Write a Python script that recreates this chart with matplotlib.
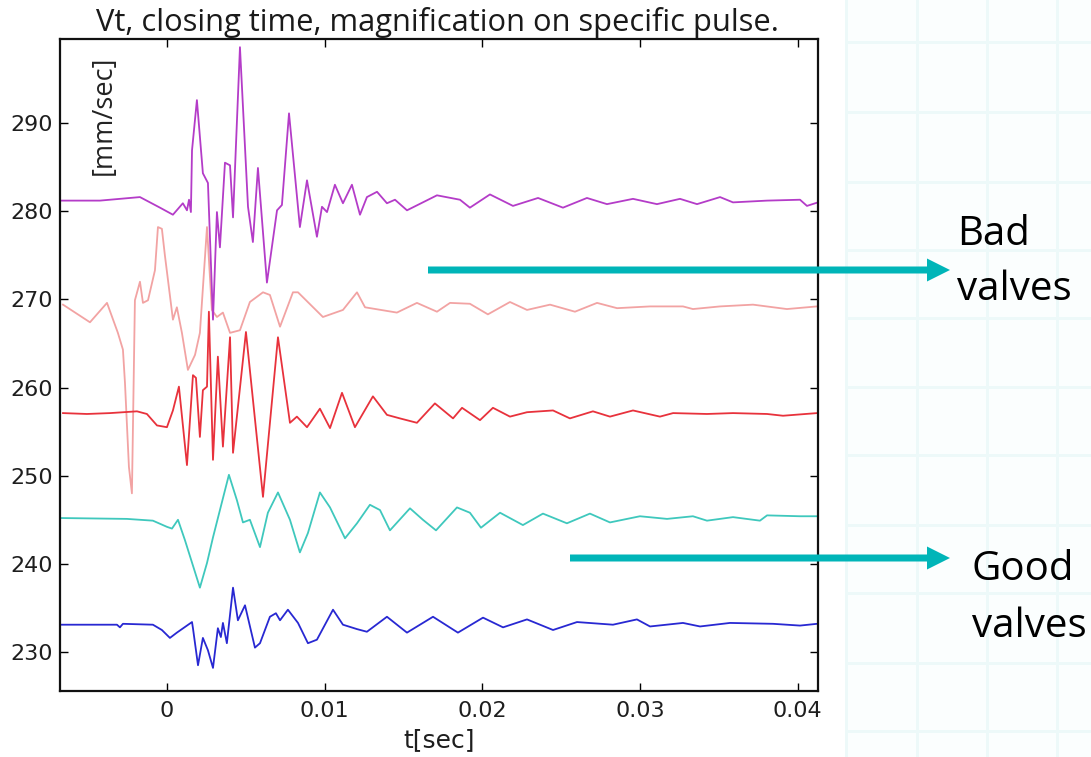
import numpy as np
import matplotlib
matplotlib.use("Agg")
import matplotlib.pyplot as plt
from matplotlib.patches import Polygon, Rectangle
from matplotlib.transforms import IdentityTransform

# ---------------- data (time in ms, velocity in mm/sec) ----------------
t_purple = [-6.78, -4.25, -1.71, -0.44, 0.38, 1.01, 1.27, 1.40, 1.52, 1.59, 1.90, 2.28, 2.60,
            2.92, 3.17, 3.36, 3.68, 4.00, 4.19, 4.63, 5.14, 5.45, 5.77, 6.34, 6.98, 7.29, 7.74,
            8.43, 8.88, 9.51, 9.83, 10.15, 10.65, 11.16, 11.73, 12.24, 12.68, 13.32, 13.95,
            14.46, 15.22, 17.12, 18.58, 19.21, 20.48, 21.94, 23.53, 25.11, 26.63, 27.90, 29.55,
            31.07, 32.53, 33.61, 35.07, 35.89, 38.05, 40.14, 40.58, 41.28]
v_purple = [281.2, 281.2, 281.6, 280.4, 279.6, 280.9, 280.1, 281.3, 279.9, 286.9, 292.6, 284.3, 283.2,
            267.7, 279.9, 275.9, 285.5, 285.2, 279.3, 298.6, 280.5, 276.5, 284.9, 271.9, 280.1, 280.7, 291.1,
            278.2, 283.5, 277.1, 280.5, 279.9, 283.0, 280.9, 283.0, 279.6, 281.6, 282.2, 280.9,
            281.3, 280.1, 281.8, 281.3, 280.4, 281.9, 280.6, 281.5, 280.4, 281.5, 280.8, 281.4,
            280.8, 281.4, 280.8, 281.6, 281.0, 281.2, 281.3, 280.6, 281.0]

t_pink = [-6.59, -4.88, -3.80, -3.11, -2.79, -2.66, -2.41, -2.22, -2.03, -1.71, -1.52, -1.20, -0.76,
          -0.57, -0.32, -0.13, 0.38, 0.63, 0.95, 1.33, 1.78, 2.09, 2.54, 2.85, 3.17, 3.55, 4.00,
          4.63, 5.26, 6.09, 6.53, 7.17, 7.99, 8.31, 9.89, 11.16, 12.05, 12.56, 14.58, 15.85,
          17.12, 17.95, 19.21, 20.35, 21.75, 22.83, 24.29, 25.87, 27.27, 28.54, 30.63, 32.72,
          33.35, 35.07, 37.16, 39.31, 41.22]
v_pink = [269.4, 267.4, 269.6, 266.2, 264.3, 260.5, 251.0, 248.0, 269.9, 272.0, 269.6, 269.9, 273.3,
          278.2, 278.0, 275.0, 267.7, 269.1, 266.2, 262.0, 263.7, 266.2, 278.2, 268.8, 268.0, 268.5, 266.2,
          266.5, 269.7, 270.8, 270.5, 266.9, 270.8, 270.8, 268.0, 268.8, 270.8, 269.1, 268.5, 269.6,
          268.6, 269.6, 269.5, 268.3, 269.7, 268.8, 269.4, 268.6, 269.6, 269.0, 269.2, 269.2,
          268.9, 269.2, 269.4, 268.9, 269.2]

t_red = [-6.59, -5.07, -3.61, -1.90, -1.27, -0.63, 0.00, 0.38, 0.76, 1.27, 1.65, 1.84, 2.09, 2.28,
         2.54, 2.66, 2.92, 3.23, 3.55, 4.00, 4.19, 5.01, 6.09, 7.04, 7.80, 8.24, 8.88, 9.70, 10.34,
         11.10, 11.92, 13.06, 13.95, 14.77, 15.85, 16.99, 18.14, 18.71, 19.85, 20.67, 21.75,
         22.83, 24.48, 25.55, 27.01, 28.09, 29.55, 31.26, 32.09, 34.24, 35.89, 38.05, 39.06, 41.22]
v_red = [257.1, 257.0, 257.1, 257.3, 257.0, 255.7, 255.5, 257.4, 260.1, 251.2, 261.4, 261.1, 254.4, 259.7,
         260.1, 268.6, 251.8, 263.5, 253.3, 265.7, 252.6, 266.3, 247.6, 265.7, 256.0, 256.7, 255.5, 257.6, 255.4,
         259.4, 255.5, 259.0, 256.9, 256.5, 256.0, 258.2, 256.5, 257.7, 256.3, 257.7, 256.7,
         257.2, 257.4, 256.5, 257.3, 256.7, 257.4, 256.7, 257.1, 257.0, 257.1, 257.0, 256.8, 257.1]

t_cyan = [-6.78, -2.54, -0.89, 0.00, 0.32, 0.70, 1.14, 2.09, 2.54, 2.92, 3.36, 3.93, 4.44, 4.82, 5.26,
          5.90, 6.40, 7.04, 7.80, 8.43, 8.94, 9.70, 10.34, 11.29, 12.05, 12.87, 13.51, 14.14, 15.41,
          16.23, 17.06, 18.39, 19.21, 19.91, 21.12, 22.57, 23.84, 25.36, 26.82, 28.09, 29.99,
          31.71, 33.35, 34.24, 35.89, 37.60, 38.05, 40.14, 41.22]
v_cyan = [245.2, 245.1, 244.9, 244.2, 244.0, 245.0, 242.7, 237.3, 240.1, 243.0, 246.1, 250.1, 247.2, 244.7, 245.0,
          241.9, 245.8, 248.1, 245.0, 241.3, 243.5, 248.1, 246.4, 242.9, 244.6, 246.7, 246.1, 243.8, 246.3,
          245.0, 243.8, 246.4, 245.8, 244.1, 245.8, 244.4, 245.7, 244.6, 245.7, 244.7, 245.4,
          245.1, 245.4, 244.9, 245.3, 244.9, 245.5, 245.4, 245.4]

t_blue = [-6.78, -3.17, -2.98, -2.79, -0.89, -0.32, 0.19, 0.63, 1.59, 1.65, 1.97, 2.28, 2.60, 2.92,
          3.23, 3.42, 3.55, 3.80, 4.19, 4.50, 4.95, 5.58, 5.90, 6.53, 6.91, 7.17, 7.67, 8.31, 8.94,
          9.51, 10.53, 11.16, 12.05, 12.68, 13.95, 15.22, 16.87, 18.45, 20.04, 21.31, 22.83,
          24.48, 26.00, 28.28, 29.80, 30.63, 32.72, 33.80, 35.70, 38.43, 40.14, 41.22]
v_blue = [233.1, 233.1, 232.8, 233.2, 233.1, 232.5, 231.6, 232.2, 233.4, 232.7, 228.5, 231.6, 230.2, 228.2,
          232.7, 231.7, 233.3, 231.0, 237.3, 233.6, 235.3, 230.5, 231.0, 234.0, 234.4, 233.6, 234.8, 233.3, 231.0,
          231.4, 234.8, 233.1, 232.6, 232.3, 234.0, 232.2, 234.0, 232.2, 233.9, 232.8, 233.7,
          232.5, 233.4, 233.1, 233.7, 232.9, 233.3, 232.9, 233.3, 233.2, 233.0, 233.2]

x_ticks = [0, 0.01, 0.02, 0.03, 0.04]
x_tick_labels = ["0", "0.01", "0.02", "0.03", "0.04"]
y_ticks = [230, 240, 250, 260, 270, 280, 290]

title = "Vt, closing time, magnification on specific pulse."
xlabel = "t[sec]"
ylabel = "[mm/sec]"

# ---------------- figure ----------------
W, H = 1091, 757
fig = plt.figure(figsize=(W / 100, H / 100), dpi=100)
fig.patch.set_facecolor("white")

ident = IdentityTransform()

# slide background (faint grid) on the right
fig.add_artist(Rectangle((845, 0), W - 845, H, transform=ident, facecolor="#fbfefe",
                         edgecolor="none", zorder=-5))
for gx in [846, 917, 987, 1057]:
    fig.add_artist(Rectangle((gx - 1.5, 0), 3, H, transform=ident, facecolor="#edf9f9",
                             edgecolor="none", zorder=-4))
for gy in [42, 112, 182, 250, 318, 387, 455, 525, 593, 663, 731]:
    fig.add_artist(Rectangle((845, H - gy - 1.5), W - 845, 3, transform=ident,
                             facecolor="#edf9f9", edgecolor="none", zorder=-4))

ax = fig.add_axes([60 / W, (H - 691) / H, 758 / W, 652 / H])
ax.set_facecolor("white")

series = [
    (t_pink, v_pink, "#f2a3a3"),
    (t_red, v_red, "#e8323c"),
    (t_purple, v_purple, "#b43cc8"),
    (t_cyan, v_cyan, "#3fc8bd"),
    (t_blue, v_blue, "#2828d2"),
]
for t, v, c in series:
    ax.plot(np.asarray(t) / 1000.0, v, color=c, lw=1.3, solid_joinstyle="round")

ax.set_xlim(-0.00678, 0.04128)
ax.set_ylim(225.58, 299.53)
ax.set_xticks(x_ticks)
ax.set_xticklabels(x_tick_labels)
ax.set_yticks(y_ticks)
ax.tick_params(direction="in", length=6, width=1, top=True, right=True,
               labelsize=16, colors="black")
ax.tick_params(axis="x", pad=7)
ax.tick_params(axis="y", pad=5)
for lab in ax.get_xticklabels() + ax.get_yticklabels():
    lab.set_fontfamily("DejaVu Sans")
    lab.set_color("#1e1e1e")
for s in ax.spines.values():
    s.set_linewidth(1.6)
    s.set_color("#111111")

ax.set_xlabel(xlabel, fontsize=18, family="DejaVu Sans", labelpad=5, color="#1e1e1e")
ax.text(0.058, 0.883, ylabel, transform=ax.transAxes, rotation=90, ha="center",
        va="center", fontsize=19.5, family="Open Sans", color="#222222")

fig.text(437 / W, 1 - 31 / H, title, ha="center", va="baseline", fontsize=22.2,
         family="Open Sans", color="#1a1a1a")

# arrows
teal = "#00b5b8"
for x0, yimg in [(428, 270), (570, 558)]:
    yd = H - yimg
    pts = [(x0, yd - 3.5), (927, yd - 3.5), (927, yd - 11.5), (950, yd),
           (927, yd + 11.5), (927, yd + 3.5), (x0, yd + 3.5)]
    fig.add_artist(Polygon(pts, closed=True, transform=ident, facecolor=teal,
                           edgecolor="none", zorder=10))

fig.text(957 / W, 1 - 245 / H, "Bad", ha="left", va="baseline", fontsize=29,
         family="Open Sans", color="black")
fig.text(957 / W, 1 - 300 / H, "valves", ha="left", va="baseline", fontsize=29,
         family="Open Sans", color="black")
fig.text(972 / W, 1 - 580 / H, "Good", ha="left", va="baseline", fontsize=29,
         family="Open Sans", color="black")
fig.text(972 / W, 1 - 637 / H, "valves", ha="left", va="baseline", fontsize=29,
         family="Open Sans", color="black")

fig.savefig("out.png", dpi=100, facecolor=fig.get_facecolor())
